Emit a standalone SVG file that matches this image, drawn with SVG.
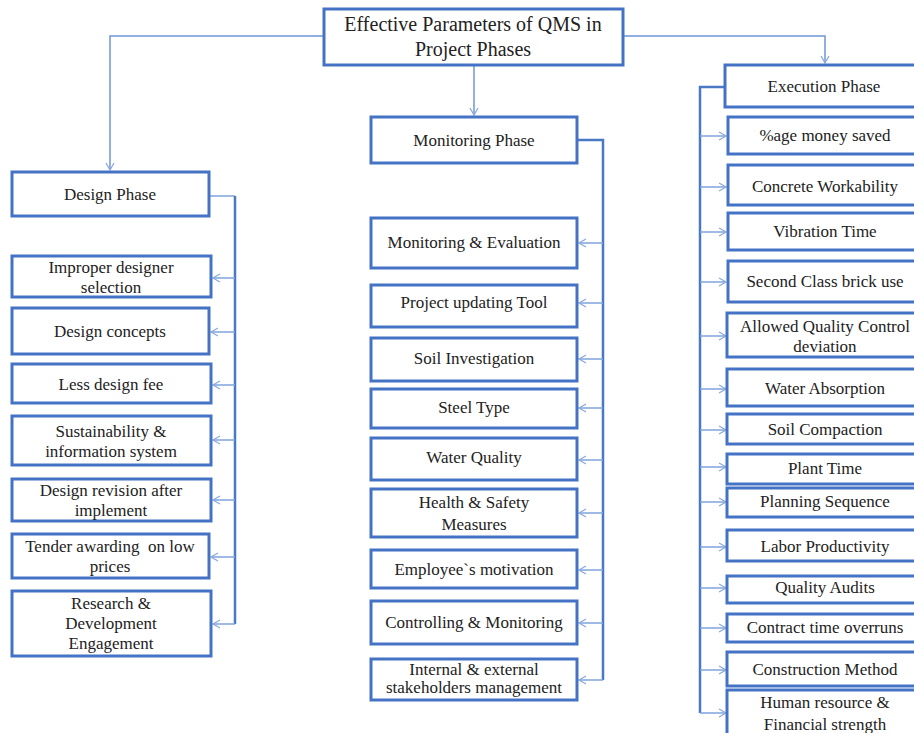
<svg xmlns="http://www.w3.org/2000/svg" width="914" height="733" viewBox="0 0 914 733">
<defs>
<marker id="arr" markerUnits="userSpaceOnUse" markerWidth="10" markerHeight="10" refX="8" refY="5" orient="auto">
<path d="M1,1 L8,5 L1,9" fill="none" stroke="#8AAADF" stroke-width="1.3"/>
</marker>
<style>
.box{fill:#fff;stroke:#4472C4;stroke-width:3}
.t{font-size:17px;fill:#222;text-anchor:middle}
.title{font-size:20px}
.trunk{fill:none;stroke:#6E97D6;stroke-width:1.5}
.bus{fill:none;stroke:#4A78C2;stroke-width:2.5}
.br{fill:none;stroke:#7FA3DB;stroke-width:1.5}
</style>
</defs>
<rect width="914" height="733" fill="#fff"/>
<g id="connectors">
<path class="trunk" d="M324,36 H110 V170" marker-end="url(#arr)"/>
<path class="trunk" d="M474,65 V115" marker-end="url(#arr)"/>
<path class="trunk" d="M623,36 H825 V63" marker-end="url(#arr)"/>
<path class="br" d="M209,196 H235"/>
<path class="bus" d="M235,196 V624"/>
<path class="br" d="M235,278 H213" marker-end="url(#arr)"/>
<path class="br" d="M235,332 H211" marker-end="url(#arr)"/>
<path class="br" d="M235,385 H213" marker-end="url(#arr)"/>
<path class="br" d="M235,440 H213" marker-end="url(#arr)"/>
<path class="br" d="M235,500 H213" marker-end="url(#arr)"/>
<path class="br" d="M235,557 H211" marker-end="url(#arr)"/>
<path class="br" d="M235,624 H213" marker-end="url(#arr)"/>
<path class="bus" d="M578,140 H603 V680"/>
<path class="br" d="M603,243 H579" marker-end="url(#arr)"/>
<path class="br" d="M603,303 H579" marker-end="url(#arr)"/>
<path class="br" d="M603,359 H579" marker-end="url(#arr)"/>
<path class="br" d="M603,408 H579" marker-end="url(#arr)"/>
<path class="br" d="M603,460 H579" marker-end="url(#arr)"/>
<path class="br" d="M603,513 H579" marker-end="url(#arr)"/>
<path class="br" d="M603,570 H579" marker-end="url(#arr)"/>
<path class="br" d="M603,623 H579" marker-end="url(#arr)"/>
<path class="br" d="M603,680 H579" marker-end="url(#arr)"/>
<path class="bus" d="M725,87 H700 V713"/>
<path class="br" d="M700,136 H726" marker-end="url(#arr)"/>
<path class="br" d="M700,187 H726" marker-end="url(#arr)"/>
<path class="br" d="M700,232 H726" marker-end="url(#arr)"/>
<path class="br" d="M700,282 H726" marker-end="url(#arr)"/>
<path class="br" d="M700,336 H726" marker-end="url(#arr)"/>
<path class="br" d="M700,389 H726" marker-end="url(#arr)"/>
<path class="br" d="M700,430 H726" marker-end="url(#arr)"/>
<path class="br" d="M700,467 H726" marker-end="url(#arr)"/>
<path class="br" d="M700,502 H726" marker-end="url(#arr)"/>
<path class="br" d="M700,547 H726" marker-end="url(#arr)"/>
<path class="br" d="M700,588 H726" marker-end="url(#arr)"/>
<path class="br" d="M700,628 H726" marker-end="url(#arr)"/>
<path class="br" d="M700,670 H726" marker-end="url(#arr)"/>
<path class="br" d="M700,713 H726" marker-end="url(#arr)"/>
</g>
<g font-family="'Liberation Serif', 'DejaVu Serif', 'Times New Roman', serif">
<g id="root"><rect class="box" x="324" y="9" width="299" height="56"/><text class="t title" x="473" y="31">Effective Parameters of QMS in</text><text class="t title" x="473" y="56">Project Phases</text></g>
<g id="design"><rect class="box" x="12" y="172" width="197" height="44"/><text class="t" x="110" y="200">Design Phase</text></g>
<g id="d1"><rect class="box" x="12" y="256" width="199" height="41"/><text class="t" x="111" y="273">Improper designer</text><text class="t" x="111" y="293">selection</text></g>
<g id="d2"><rect class="box" x="12" y="308" width="197" height="46"/><text class="t" x="110" y="337">Design concepts</text></g>
<g id="d3"><rect class="box" x="12" y="364" width="199" height="39"/><text class="t" x="111" y="390">Less design fee</text></g>
<g id="d4"><rect class="box" x="12" y="416" width="199" height="49"/><text class="t" x="111" y="437">Sustainability &amp;</text><text class="t" x="111" y="457">information system</text></g>
<g id="d5"><rect class="box" x="12" y="479" width="199" height="42"/><text class="t" x="111" y="496">Design revision after</text><text class="t" x="111" y="516">implement</text></g>
<g id="d6"><rect class="box" x="12" y="534" width="197" height="44"/><text class="t" x="110" y="552" xml:space="preserve">Tender awarding  on low</text><text class="t" x="110" y="572">prices</text></g>
<g id="d7"><rect class="box" x="12" y="591" width="199" height="65"/><text class="t" x="111" y="609">Research &amp;</text><text class="t" x="111" y="629">Development</text><text class="t" x="111" y="649">Engagement</text></g>
<g id="monitoring"><rect class="box" x="371" y="117" width="206" height="46"/><text class="t" x="474" y="146">Monitoring Phase</text></g>
<g id="m1"><rect class="box" x="371" y="218" width="206" height="50"/><text class="t" x="474" y="248">Monitoring &amp; Evaluation</text></g>
<g id="m2"><rect class="box" x="371" y="285" width="206" height="42"/><text class="t" x="474" y="308">Project updating Tool</text></g>
<g id="m3"><rect class="box" x="371" y="338" width="206" height="43"/><text class="t" x="474" y="364">Soil Investigation</text></g>
<g id="m4"><rect class="box" x="371" y="389" width="206" height="39"/><text class="t" x="474" y="413">Steel Type</text></g>
<g id="m5"><rect class="box" x="371" y="438" width="206" height="42"/><text class="t" x="474" y="463">Water Quality</text></g>
<g id="m6"><rect class="box" x="371" y="489" width="206" height="48"/><text class="t" x="474" y="508">Health &amp; Safety</text><text class="t" x="474" y="530">Measures</text></g>
<g id="m7"><rect class="box" x="371" y="550" width="206" height="38"/><text class="t" x="474" y="575">Employee`s motivation</text></g>
<g id="m8"><rect class="box" x="371" y="601" width="206" height="43"/><text class="t" x="474" y="628">Controlling &amp; Monitoring</text></g>
<g id="m9"><rect class="box" x="371" y="659" width="206" height="41"/><text class="t" x="474" y="675">Internal &amp; external</text><text class="t" x="474" y="693">stakeholders management</text></g>
<g id="execution"><rect class="box" x="725" y="65" width="195" height="42"/><text class="t" x="824" y="92">Execution Phase</text></g>
<g id="e1"><rect class="box" x="728" y="117" width="192" height="37"/><text class="t" x="825" y="141">%age money saved</text></g>
<g id="e2"><rect class="box" x="728" y="165" width="192" height="40"/><text class="t" x="825" y="192">Concrete Workability</text></g>
<g id="e3"><rect class="box" x="728" y="213" width="192" height="37"/><text class="t" x="825" y="237">Vibration Time</text></g>
<g id="e4"><rect class="box" x="728" y="261" width="192" height="41"/><text class="t" x="825" y="287">Second Class brick use</text></g>
<g id="e5"><rect class="box" x="727" y="313" width="193" height="44"/><text class="t" x="825" y="332">Allowed Quality Control</text><text class="t" x="825" y="352">deviation</text></g>
<g id="e6"><rect class="box" x="727" y="369" width="193" height="37"/><text class="t" x="825" y="394">Water Absorption</text></g>
<g id="e7"><rect class="box" x="727" y="414" width="193" height="30"/><text class="t" x="825" y="435">Soil Compaction</text></g>
<g id="e8"><rect class="box" x="727" y="454" width="193" height="30"/><text class="t" x="825" y="474">Plant Time</text></g>
<g id="e9"><rect class="box" x="727" y="488" width="193" height="29"/><text class="t" x="825" y="507">Planning Sequence</text></g>
<g id="e10"><rect class="box" x="727" y="530" width="193" height="31"/><text class="t" x="825" y="552">Labor Productivity</text></g>
<g id="e11"><rect class="box" x="727" y="576" width="193" height="27"/><text class="t" x="825" y="593">Quality Audits</text></g>
<g id="e12"><rect class="box" x="727" y="614" width="193" height="28"/><text class="t" x="825" y="633">Contract time overruns</text></g>
<g id="e13"><rect class="box" x="727" y="652" width="193" height="34"/><text class="t" x="825" y="675">Construction Method</text></g>
<g id="e14"><rect class="box" x="727" y="690" width="193" height="50"/><text class="t" x="825" y="708">Human resource &amp;</text><text class="t" x="825" y="730">Financial strength</text></g>
</g>
</svg>
